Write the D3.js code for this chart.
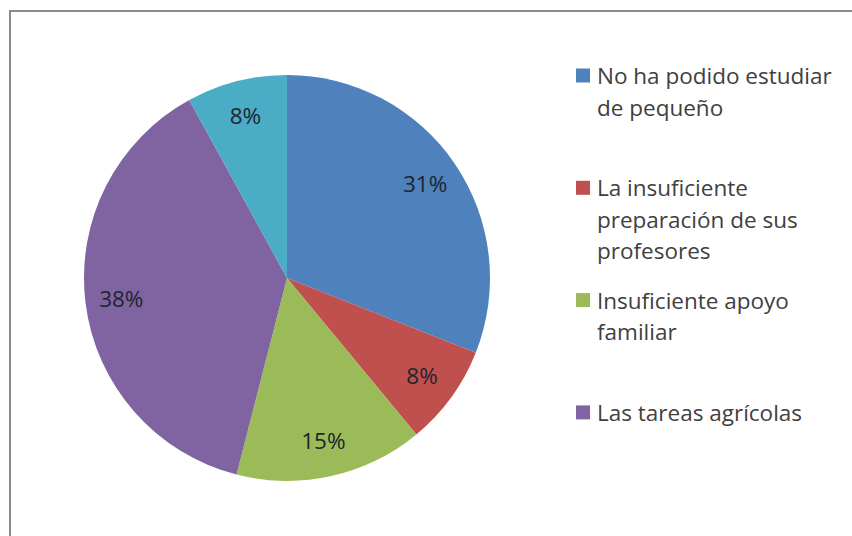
<!DOCTYPE html>
<html><head><meta charset="utf-8">
<script src="https://cdn.jsdelivr.net/npm/d3@7"></script>
<style>body{margin:0;background:#fff}svg{display:block}</style>
</head><body>
<svg id="c" width="852" height="536"></svg>
<script>
const categories = ["No ha podido estudiar de pequeño", "La insuficiente preparación de sus profesores", "Insuficiente apoyo familiar", "Las tareas agrícolas", "Otros"];
const legendLines = [["No ha podido estudiar", "de pequeño"], ["La insuficiente", "preparación de sus", "profesores"], ["Insuficiente apoyo", "familiar"], ["Las tareas agrícolas"]];
const values = [31, 8, 15, 38, 8];
const labels = ["31%", "8%", "15%", "38%", "8%"];
const colors = ["#4F81BD", "#C0504D", "#9BBB59", "#8064A2", "#4BACC6"];

const svg = d3.select("#c");
const font = "'Open Sans', Lato, sans-serif";
svg.append("rect").attr("x", 10).attr("y", 11).attr("width", 900).attr("height", 600)
  .attr("fill", "#fff").attr("stroke", "#8a8a8a").attr("stroke-width", 2);

const cx = 287, cy = 278, R = 203;
const pie = d3.pie().sort(null).value(d => d)(values);
const arc = d3.arc().innerRadius(0).outerRadius(R);
const labelArc = d3.arc().innerRadius(167).outerRadius(167);
const g = svg.append("g").attr("transform", `translate(${cx},${cy})`);
g.selectAll("path").data(pie).join("path")
  .attr("d", arc).attr("fill", (d, i) => colors[i]);
g.selectAll("text").data(pie).join("text")
  .attr("transform", d => `translate(${labelArc.centroid(d)})`)
  .attr("text-anchor", "middle").attr("dy", "0.36em")
  .attr("font-family", font).attr("font-size", 22.5).attr("fill", "#1e2530")
  .text((d, i) => labels[i]);

const lg = svg.append("g");
const lineH = 31.5, entryStep = 112.3, y0 = 76;
legendLines.forEach((lines, i) => {
  const y = y0 + i * entryStep;
  lg.append("rect").attr("x", 576).attr("y", y - 7.5).attr("width", 14).attr("height", 14)
    .attr("fill", colors[i]);
  const t = lg.append("text").attr("font-family", font).attr("font-size", 22.5).attr("fill", "#404040");
  lines.forEach((ln, j) => {
    t.append("tspan").attr("x", 597).attr("y", y + j * lineH).attr("dy", "0.36em").text(ln);
  });
});
</script>
</body></html>
